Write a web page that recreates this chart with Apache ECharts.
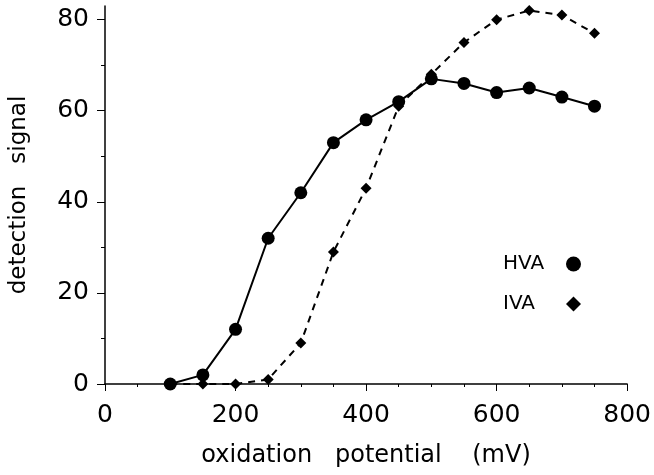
<!DOCTYPE html>
<html>
<head>
<meta charset="utf-8">
<script src="https://cdn.jsdelivr.net/npm/echarts@6/dist/echarts.min.js"></script>
<style>
  html, body { margin: 0; padding: 0; background: #fff; }
  #chart { width: 654px; height: 475px; }
</style>
</head>
<body>
<div id="chart"></div>
<script>
// oxidation potential (mV)
var potentials = [100, 150, 200, 250, 300, 350, 400, 450, 500, 550, 600, 650, 700, 750];
var hvaValues = [0, 2, 12, 32, 42, 53, 58, 62, 67, 66, 64, 65, 63, 61];
var ivaValues = [0, 0, 0, 1, 9, 29, 43, 61, 68, 75, 80, 82, 81, 77];
var xTickLabels = [0, 200, 400, 600, 800];
var yTickLabels = [0, 20, 40, 60, 80];
var yMinorTicks = [10, 30, 50, 70];

var font = 'DejaVu Sans, sans-serif';

function pairs(xs, ys) {
  return xs.map(function (x, i) { return [x, ys[i]]; });
}

var option = {
  backgroundColor: '#fff',
  animation: false,
  grid: { left: 104, right: 25, top: 6, bottom: 91, containLabel: false },
  legend: {
    orient: 'vertical',
    align: 'right',
    left: 498,
    top: 249,
    itemWidth: 15,
    itemHeight: 15,
    itemGap: 20,
    formatter: function (name) { return '{t|' + name + '}'; },
    textStyle: {
      fontFamily: font, fontSize: 20, color: '#000', lineHeight: 20,
      rich: { t: { fontFamily: font, fontSize: 20, color: '#000', width: 58, align: 'left' } }
    },
    data: [
      { name: 'HVA', icon: 'circle', itemStyle: { color: '#000' } },
      { name: 'IVA', icon: 'diamond', itemStyle: { color: '#000' } }
    ]
  },
  xAxis: {
    type: 'value',
    min: 0,
    max: 800,
    interval: 200,
    name: 'oxidation   potential    (mV)',
    nameLocation: 'middle',
    nameGap: 60,
    nameTextStyle: { fontFamily: font, fontSize: 24, color: '#000' },
    axisLine: { show: true, lineStyle: { color: '#000', width: 1.5 } },
    axisTick: { show: true, length: 7, lineStyle: { color: '#000' } },
    minorTick: { show: true, splitNumber: 4, length: 3, lineStyle: { color: '#000' } },
    axisLabel: { fontFamily: font, fontSize: 25, color: '#000', margin: 19 },
    splitLine: { show: false }
  },
  yAxis: [{
    type: 'value',
    min: 0,
    max: 83,
    name: 'detection   signal',
    nameLocation: 'middle',
    nameGap: 74,
    nameTextStyle: { fontFamily: font, fontSize: 23, color: '#000' },
    axisLine: { show: true, lineStyle: { color: '#000', width: 1.5 } },
    axisTick: { show: true, length: 8, customValues: yTickLabels, lineStyle: { color: '#000' } },
    axisLabel: { fontFamily: font, fontSize: 25, color: '#000', margin: 16, customValues: yTickLabels },
    splitLine: { show: false }
  }, {
    type: 'value',
    min: 0,
    max: 83,
    position: 'left',
    axisLine: { show: false },
    axisTick: { show: true, length: 4, customValues: yMinorTicks, lineStyle: { color: '#000' } },
    axisLabel: { show: false },
    splitLine: { show: false }
  }],
  series: [{
    name: 'HVA',
    type: 'line',
    data: pairs(potentials, hvaValues),
    symbol: 'circle',
    symbolSize: 13,
    itemStyle: { color: '#000' },
    lineStyle: { color: '#000', width: 2 },
    z: 3
  }, {
    name: 'IVA',
    type: 'line',
    data: pairs(potentials, ivaValues),
    symbol: 'diamond',
    symbolSize: 11,
    itemStyle: { color: '#000' },
    lineStyle: { color: '#000', width: 2, type: [7, 6] },
    z: 2
  }]
};

var myChart = echarts.init(document.getElementById('chart'));
myChart.setOption(option);
</script>
</body>
</html>
